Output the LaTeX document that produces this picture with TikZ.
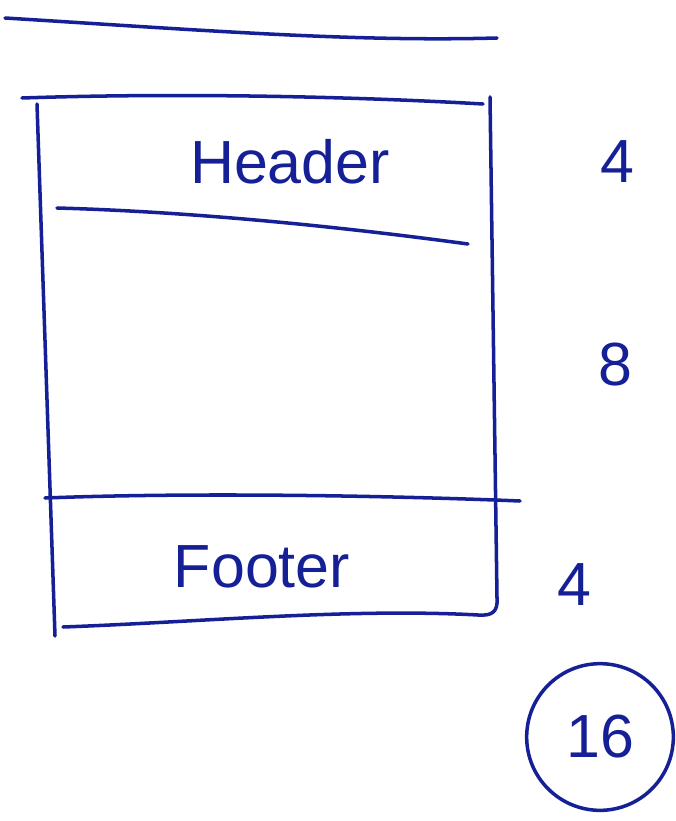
\documentclass[tikz,border=0pt]{standalone}
\usepackage{fontspec}
\setmainfont{Liberation Sans}
\definecolor{ink}{RGB}{22,32,150}
\tikzset{
  pen/.style={draw=ink, line width=3pt, line cap=round, line join=round},
  inktext/.style={text=ink, inner sep=0pt, font=\fontsize{52}{56}\selectfont},
}
\begin{document}
\begin{tikzpicture}[x=0.03cm,y=-0.03cm]
\useasboundingbox (0,0) rectangle (675,821);
% page edge above the layout
\draw[pen] (5,18) .. controls (200,30) and (350,42) .. (497,38);

% layout frame
\draw[pen] (22,98) .. controls (200,92) and (380,98) .. (483,104);
\draw[pen] (37,104) -- (55,636);
\draw[pen] (490,97) -- (497,598) .. controls (498,612) and (492,616) .. (478,615)
  .. controls (350,608) and (200,622) .. (63,627);

% header and footer rules
\draw[pen] (57,208) .. controls (200,212) and (350,228) .. (468,244);
\draw[pen] (45,498) .. controls (200,492) and (400,496) .. (520,501);

\node[inktext] (header) at (290,162) {Header};
\node[inktext] (footer) at (262,567) {Footer};

% row counts
\node[inktext] (nhead) at (617,162) {4};
\node[inktext] (nbody) at (615,365) {8};
\node[inktext] (nfoot) at (574,585) {4};
\node[inktext, draw=ink, line width=3pt, circle, minimum size=4.4cm] (total) at (600,737) {16};
\end{tikzpicture}
\end{document}
